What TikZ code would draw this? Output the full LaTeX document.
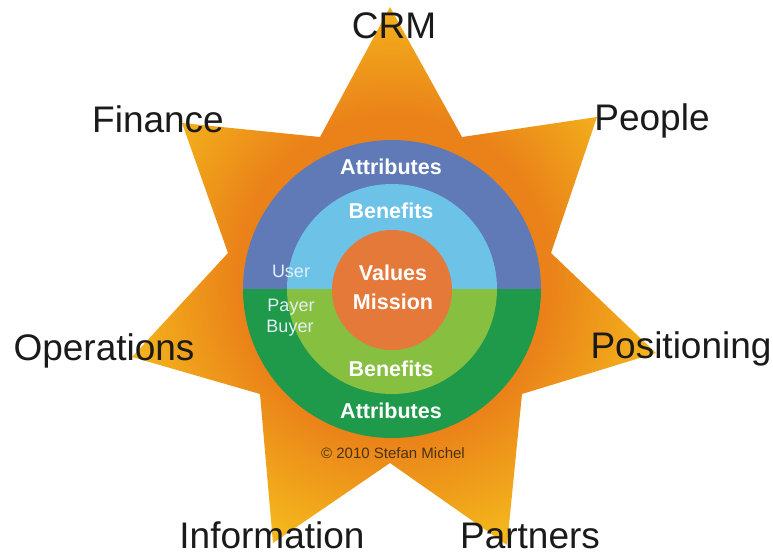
\documentclass[tikz,border=0pt]{standalone}
\usepackage{fontspec}
\setmainfont{Liberation Sans}

\definecolor{starinner}{HTML}{EA8219}
\definecolor{startip}{HTML}{F4B61C}
\definecolor{outerblue}{HTML}{5F7AB6}
\definecolor{innerblue}{HTML}{6DC2E8}
\definecolor{outergreen}{HTML}{1F9A4A}
\definecolor{innergreen}{HTML}{87C040}
\definecolor{coreorange}{HTML}{E4793A}
\definecolor{labelgray}{HTML}{1A1A1A}
\definecolor{rolewhite}{HTML}{E2F0F6}
\definecolor{copybrown}{HTML}{4A3210}

% orange heart of the star fading to yellow at the tips
% (25bp of the shading spans half the width of the star)
\pgfdeclareradialshading{starglow}{\pgfpoint{0bp}{0bp}}{%
  color(0bp)=(starinner); color(15bp)=(starinner); color(26bp)=(startip); color(50bp)=(startip)}

\tikzset{
  arealabel/.style={font=\fontsize{37}{40}\selectfont, text=labelgray, anchor=base, inner sep=0pt},
  ringtext/.style={font=\bfseries\fontsize{21.5}{24}\selectfont, text=white, anchor=base, inner sep=0pt},
  roletext/.style={font=\fontsize{18}{20}\selectfont, text=rolewhite, anchor=base, inner sep=0pt},
}

\begin{document}
\begin{tikzpicture}[x=1pt, y=-1pt]
\useasboundingbox (0,0) rectangle (773,552);

% seven-pointed star
\shade[shading=starglow]
  (390,7) -- (462,137) -- (597,117) -- (551,253) -- (656,353) -- (522,394)
  -- (507,545) -- (390,463) -- (273,543) -- (260,394) -- (132,357)
  -- (228,253) -- (182,123) -- (320,137) -- cycle;

% upper half: user side
\begin{scope}
  \clip (0,0) rectangle (773,289);
  \fill[outerblue] (392,289) circle (149pt);
  \fill[innerblue] (392,289) circle (105pt);
\end{scope}
% lower half: payer / buyer side
\begin{scope}
  \clip (0,289) rectangle (773,552);
  \fill[outergreen] (392,289) circle (149pt);
  \fill[innergreen] (392,289) circle (105pt);
\end{scope}
% core
\fill[coreorange] (392,290) circle (60pt);

% ring labels
\node[ringtext] (attrtop) at (391,174) {Attributes};
\node[ringtext] (bentop) at (391,218) {Benefits};
\node[ringtext] (values) at (393,280) {Values};
\node[ringtext] (mission) at (393,309) {Mission};
\node[ringtext] (benbot) at (391,376) {Benefits};
\node[ringtext] (attrbot) at (391,418) {Attributes};

\node[roletext] (user) at (291,277) {User};
\node[roletext] (payer) at (291,311) {Payer};
\node[roletext] (buyer) at (290,332) {Buyer};

\node[font=\fontsize{15}{17}\selectfont, text=copybrown, anchor=base, inner sep=0pt]
  (copyright) at (393,458) {© 2010 Stefan Michel};

% areas at the star points
\node[arealabel] (crm) at (394,38) {CRM};
\node[arealabel] (finance) at (158,132) {Finance};
\node[arealabel] (people) at (652,130) {People};
\node[arealabel] (operations) at (104,360) {Operations};
\node[arealabel] (positioning) at (681,358) {Positioning};
\node[arealabel] (information) at (272,548) {Information};
\node[arealabel] (partners) at (530,548) {Partners};
\end{tikzpicture}
\end{document}
